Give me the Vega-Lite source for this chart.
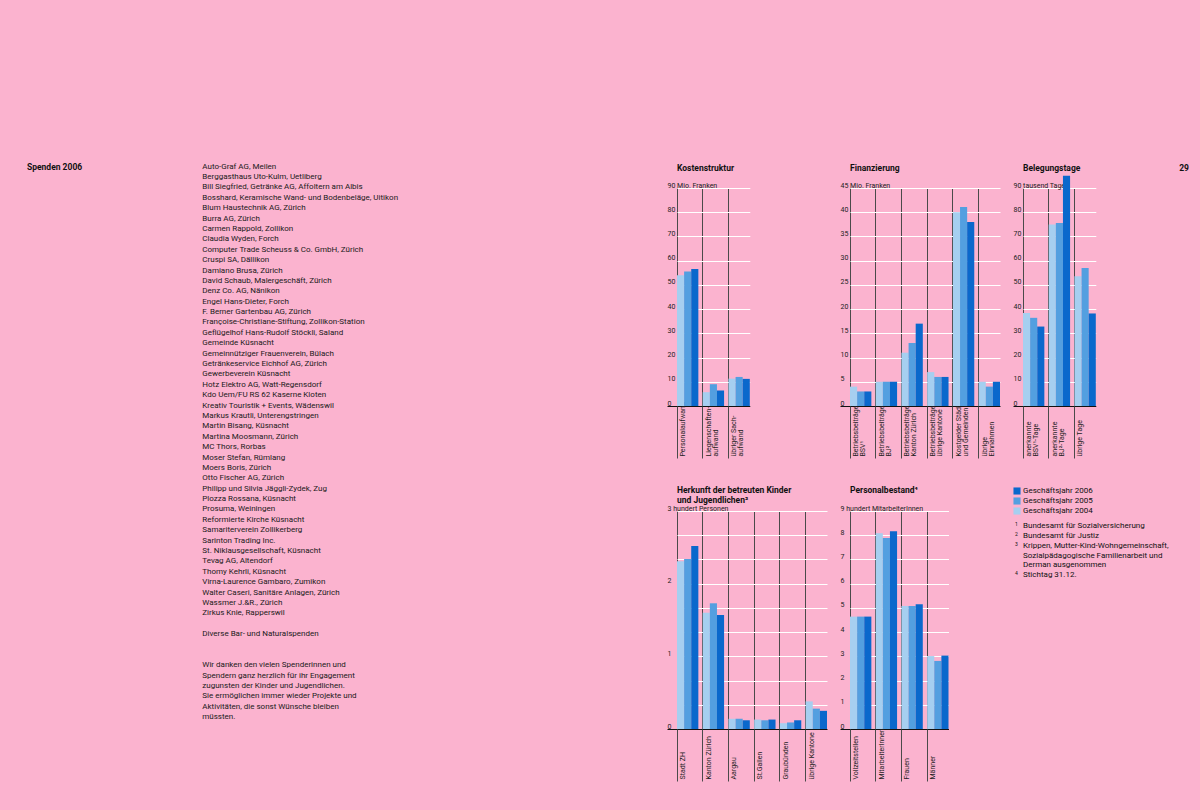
{
  "$schema": "https://vega.github.io/schema/vega-lite/v6.json",
  "background": "#fbb3cf",
  "padding": {"left": 27, "top": 162, "right": 11, "bottom": 29},
  "title": {"text": "29", "anchor": "end", "frame": "bounds", "dx": 16, "dy": 10, "offset": 0, "fontSize": 8.5, "fontWeight": "bold", "font": "Roboto", "color": "#111111", "baseline": "top"},
  "config": {
    "view": {"stroke": null},
    "font": "Roboto",
    "title": {"anchor": "start", "frame": "group", "font": "Roboto", "fontSize": 8.5, "fontWeight": "bold", "color": "#111111", "baseline": "bottom", "offset": 8.8, "lineHeight": 10},
    "axisX": {"bandPosition": 0, "grid": true, "gridColor": "#4a4a4a", "gridWidth": 1, "ticks": true, "tickColor": "#4a4a4a", "tickSize": 52, "tickWidth": 1, "domain": false, "labelAngle": 270, "labelAlign": "left", "labelBaseline": "top", "labelOffset": -8.7, "labelPadding": -2, "labelFont": "Roboto", "labelFontSize": 7, "labelLineHeight": 7, "labelColor": "#222222", "labelOverlap": false, "labelBound": false, "labelFlush": false, "zindex": 1},
    "axisY": {"domain": false, "ticks": true, "tickSize": 10, "tickWidth": 1, "gridWidth": 1, "labelAlign": "left", "labelBaseline": "bottom", "labelPadding": 0, "labelFont": "Roboto", "labelFontSize": 7, "labelColor": "#222222", "labelOverlap": false, "labelBound": false, "labelFlush": false}
  },
  "datasets": {
    "leftText": [
      {"sec": "head", "line": 0, "t": "Spenden 2006"},
      {"sec": "list", "line": 0, "t": "Auto-Graf AG, Meilen"},
      {"sec": "list", "line": 1, "t": "Berggasthaus Uto-Kulm, Uetliberg"},
      {"sec": "list", "line": 2, "t": "Bill Siegfried, Getränke AG, Affoltern am Albis"},
      {"sec": "list", "line": 3, "t": "Bosshard, Keramische Wand- und Bodenbeläge, Uitikon"},
      {"sec": "list", "line": 4, "t": "Blum Haustechnik AG, Zürich"},
      {"sec": "list", "line": 5, "t": "Burra AG, Zürich"},
      {"sec": "list", "line": 6, "t": "Carmen Rappold, Zollikon"},
      {"sec": "list", "line": 7, "t": "Claudia Wyden, Forch"},
      {"sec": "list", "line": 8, "t": "Computer Trade Scheuss & Co. GmbH, Zürich"},
      {"sec": "list", "line": 9, "t": "Cruspi SA, Dällikon"},
      {"sec": "list", "line": 10, "t": "Damiano Brusa, Zürich"},
      {"sec": "list", "line": 11, "t": "David Schaub, Malergeschäft, Zürich"},
      {"sec": "list", "line": 12, "t": "Denz Co. AG, Nänikon"},
      {"sec": "list", "line": 13, "t": "Engel Hans-Dieter, Forch"},
      {"sec": "list", "line": 14, "t": "F. Berner Gartenbau AG,  Zürich"},
      {"sec": "list", "line": 15, "t": "Françoise-Christiane-Stiftung, Zollikon-Station"},
      {"sec": "list", "line": 16, "t": "Geflügelhof Hans-Rudolf Stöckli, Saland"},
      {"sec": "list", "line": 17, "t": "Gemeinde Küsnacht"},
      {"sec": "list", "line": 18, "t": "Gemeinnütziger Frauenverein, Bülach"},
      {"sec": "list", "line": 19, "t": "Getränkeservice Eichhof AG, Zürich"},
      {"sec": "list", "line": 20, "t": "Gewerbeverein Küsnacht"},
      {"sec": "list", "line": 21, "t": "Hotz Elektro AG, Watt-Regensdorf"},
      {"sec": "list", "line": 22, "t": "Kdo Uem/FU RS 62 Kaserne Kloten"},
      {"sec": "list", "line": 23, "t": "Kreativ Touristik + Events, Wädenswil"},
      {"sec": "list", "line": 24, "t": "Markus Krautli, Unterengstringen"},
      {"sec": "list", "line": 25, "t": "Martin Bisang, Küsnacht"},
      {"sec": "list", "line": 26, "t": "Martina Moosmann, Zürich"},
      {"sec": "list", "line": 27, "t": "MC Thors, Rorbas"},
      {"sec": "list", "line": 28, "t": "Moser Stefan, Rümlang"},
      {"sec": "list", "line": 29, "t": "Moers Boris, Zürich"},
      {"sec": "list", "line": 30, "t": "Otto Fischer AG, Zürich"},
      {"sec": "list", "line": 31, "t": "Philipp und Silvia Jäggli-Zydek, Zug"},
      {"sec": "list", "line": 32, "t": "Plozza Rossana, Küsnacht"},
      {"sec": "list", "line": 33, "t": "Prosuma, Weiningen"},
      {"sec": "list", "line": 34, "t": "Reformierte Kirche Küsnacht"},
      {"sec": "list", "line": 35, "t": "Samariterverein Zollikerberg"},
      {"sec": "list", "line": 36, "t": "Sarinton Trading Inc."},
      {"sec": "list", "line": 37, "t": "St. Niklausgesellschaft, Küsnacht"},
      {"sec": "list", "line": 38, "t": "Tevag AG, Altendorf"},
      {"sec": "list", "line": 39, "t": "Thomy Kehrli, Küsnacht"},
      {"sec": "list", "line": 40, "t": "Virna-Laurence Gambaro, Zumikon"},
      {"sec": "list", "line": 41, "t": "Walter Caseri, Sanitäre Anlagen, Zürich"},
      {"sec": "list", "line": 42, "t": "Wassmer J.&R., Zürich"},
      {"sec": "list", "line": 43, "t": "Zirkus Knie, Rapperswil"},
      {"sec": "list", "line": 45, "t": "Diverse Bar- und Naturalspenden"},
      {"sec": "list", "line": 48, "t": "Wir danken den vielen Spenderinnen und"},
      {"sec": "list", "line": 49, "t": "Spendern ganz herzlich für ihr Engagement"},
      {"sec": "list", "line": 50, "t": "zugunsten der Kinder und Jugendlichen."},
      {"sec": "list", "line": 51, "t": "Sie ermöglichen immer wieder Projekte und"},
      {"sec": "list", "line": 52, "t": "Aktivitäten, die sonst Wünsche bleiben"},
      {"sec": "list", "line": 53, "t": "müssten."}
    ],
    "notes": [
      {"line": 0, "num": "1", "t": "Bundesamt für Sozialversicherung"},
      {"line": 1, "num": "2", "t": "Bundesamt für Justiz"},
      {"line": 2, "num": "3", "t": "Krippen, Mutter-Kind-Wohngemeinschaft,"},
      {"line": 3, "num": "", "t": "Sozialpädagogische Familienarbeit und"},
      {"line": 4, "num": "", "t": "Derman ausgenommen"},
      {"line": 5, "num": "4", "t": "Stichtag 31.12."}
    ],
    "kosten": [
      {"cat": "Personalaufwand", "year": "2004", "v": 54.0},
      {"cat": "Personalaufwand", "year": "2005", "v": 55.5},
      {"cat": "Personalaufwand", "year": "2006", "v": 56.6},
      {"cat": "Liegenschaften-|aufwand", "year": "2004", "v": 5.7},
      {"cat": "Liegenschaften-|aufwand", "year": "2005", "v": 9.0},
      {"cat": "Liegenschaften-|aufwand", "year": "2006", "v": 6.4},
      {"cat": "übriger Sach-|aufwand", "year": "2004", "v": 11.3},
      {"cat": "übriger Sach-|aufwand", "year": "2005", "v": 12.0},
      {"cat": "übriger Sach-|aufwand", "year": "2006", "v": 11.2}
    ],
    "finanz": [
      {"cat": "Betriebsbeiträge|BSV¹", "year": "2004", "v": 4.0},
      {"cat": "Betriebsbeiträge|BSV¹", "year": "2005", "v": 3.0},
      {"cat": "Betriebsbeiträge|BSV¹", "year": "2006", "v": 3.0},
      {"cat": "Betriebsbeiträge|BJ²", "year": "2004", "v": 5.0},
      {"cat": "Betriebsbeiträge|BJ²", "year": "2005", "v": 5.0},
      {"cat": "Betriebsbeiträge|BJ²", "year": "2006", "v": 5.0},
      {"cat": "Betriebsbeiträge|Kanton Zürich", "year": "2004", "v": 11.0},
      {"cat": "Betriebsbeiträge|Kanton Zürich", "year": "2005", "v": 13.0},
      {"cat": "Betriebsbeiträge|Kanton Zürich", "year": "2006", "v": 17.0},
      {"cat": "Betriebsbeiträge|übrige Kantone", "year": "2004", "v": 7.0},
      {"cat": "Betriebsbeiträge|übrige Kantone", "year": "2005", "v": 6.0},
      {"cat": "Betriebsbeiträge|übrige Kantone", "year": "2006", "v": 6.0},
      {"cat": "Kostgelder Städte|und Gemeinden", "year": "2004", "v": 40.0},
      {"cat": "Kostgelder Städte|und Gemeinden", "year": "2005", "v": 41.1},
      {"cat": "Kostgelder Städte|und Gemeinden", "year": "2006", "v": 38.0},
      {"cat": "übrige|Einnahmen", "year": "2004", "v": 5.0},
      {"cat": "übrige|Einnahmen", "year": "2005", "v": 4.0},
      {"cat": "übrige|Einnahmen", "year": "2006", "v": 5.0}
    ],
    "beleg": [
      {"cat": "anerkannte|BSV¹-Tage", "year": "2004", "v": 38.4},
      {"cat": "anerkannte|BSV¹-Tage", "year": "2005", "v": 36.4},
      {"cat": "anerkannte|BSV¹-Tage", "year": "2006", "v": 32.8},
      {"cat": "anerkannte|BJ²-Tage", "year": "2004", "v": 74.9},
      {"cat": "anerkannte|BJ²-Tage", "year": "2005", "v": 75.6},
      {"cat": "anerkannte|BJ²-Tage", "year": "2006", "v": 95.1},
      {"cat": "übrige Tage", "year": "2004", "v": 53.6},
      {"cat": "übrige Tage", "year": "2005", "v": 57.0},
      {"cat": "übrige Tage", "year": "2006", "v": 38.2}
    ],
    "herkunft": [
      {"cat": "Stadt ZH", "year": "2004", "v": 2.31},
      {"cat": "Stadt ZH", "year": "2005", "v": 2.34},
      {"cat": "Stadt ZH", "year": "2006", "v": 2.52},
      {"cat": "Kanton Zürich", "year": "2004", "v": 1.60},
      {"cat": "Kanton Zürich", "year": "2005", "v": 1.73},
      {"cat": "Kanton Zürich", "year": "2006", "v": 1.57},
      {"cat": "Aargau", "year": "2004", "v": 0.14},
      {"cat": "Aargau", "year": "2005", "v": 0.14},
      {"cat": "Aargau", "year": "2006", "v": 0.12},
      {"cat": "St.Gallen", "year": "2004", "v": 0.13},
      {"cat": "St.Gallen", "year": "2005", "v": 0.12},
      {"cat": "St.Gallen", "year": "2006", "v": 0.13},
      {"cat": "Graubünden", "year": "2004", "v": 0.08},
      {"cat": "Graubünden", "year": "2005", "v": 0.09},
      {"cat": "Graubünden", "year": "2006", "v": 0.12},
      {"cat": "übrige Kantone", "year": "2004", "v": 0.38},
      {"cat": "übrige Kantone", "year": "2005", "v": 0.28},
      {"cat": "übrige Kantone", "year": "2006", "v": 0.25}
    ],
    "personal": [
      {"cat": "Vollzeitstellen", "year": "2004", "v": 4.64},
      {"cat": "Vollzeitstellen", "year": "2005", "v": 4.64},
      {"cat": "Vollzeitstellen", "year": "2006", "v": 4.64},
      {"cat": "MitarbeiterInnen", "year": "2004", "v": 8.08},
      {"cat": "MitarbeiterInnen", "year": "2005", "v": 7.89},
      {"cat": "MitarbeiterInnen", "year": "2006", "v": 8.16},
      {"cat": "Frauen", "year": "2004", "v": 5.08},
      {"cat": "Frauen", "year": "2005", "v": 5.08},
      {"cat": "Frauen", "year": "2006", "v": 5.15},
      {"cat": "Männer", "year": "2004", "v": 3.01},
      {"cat": "Männer", "year": "2005", "v": 2.81},
      {"cat": "Männer", "year": "2006", "v": 3.03}
    ]
  },
  "bounds": "flush",
  "columns": 4,
  "spacing": {"row": 105, "column": 23},
  "concat": [
    {
      "width": 627,
      "height": 218,
      "data": {"name": "leftText"},
      "layer": [
        {
          "transform": [{"filter": "datum.sec === 'head'"}],
          "mark": {"type": "text", "align": "left", "baseline": "middle", "fontSize": 8.5, "fontWeight": "bold", "color": "#111111"},
          "encoding": {
            "x": {"field": "sec", "type": "nominal", "scale": {"type": "point", "domain": ["head", "list"], "range": [0, 175.3], "padding": 0}, "axis": null},
            "y": {"field": "line", "type": "quantitative", "scale": {"domain": [2.05, 23.04], "reverse": true, "nice": false, "zero": false}, "axis": null},
            "text": {"field": "t"}
          }
        },
        {
          "transform": [{"filter": "datum.sec === 'list'"}],
          "mark": {"type": "text", "align": "left", "baseline": "middle", "fontSize": 8, "color": "#1a1a1a"},
          "encoding": {
            "x": {"field": "sec", "type": "nominal", "scale": {"type": "point", "domain": ["head", "list"], "range": [0, 175.3], "padding": 0}, "axis": null},
            "y": {"field": "line", "type": "quantitative", "scale": {"domain": [2.05, 23.04], "reverse": true, "nice": false, "zero": false}, "axis": null},
            "text": {"field": "t"}
          }
        }
      ]
    },
    {
      "title": {"text": "Kostenstruktur", "offset": 8.8},
      "width": 150,
      "height": 218,
      "data": {"name": "kosten"},
      "mark": {"type": "bar"},
      "encoding": {
        "x": {"field": "cat", "type": "nominal", "title": null, "scale": {"domain": ["Personalaufwand", "Liegenschaften-|aufwand", "übriger Sach-|aufwand"], "range": [0, 72.8], "paddingInner": 0.17, "paddingOuter": 0}, "axis": {"labelExpr": "split(datum.label, '|')"}},
        "xOffset": {"field": "year", "type": "nominal", "scale": {"paddingInner": 0, "paddingOuter": 0}},
        "y": {"field": "v", "type": "quantitative", "title": null, "scale": {"domain": [0, 90], "nice": false}, "axis": {"values": [0, 10, 20, 30, 40, 50, 60, 70, 80, 90], "labelExpr": "datum.value === 90 ? '90 Mio. Franken' : datum.label", "tickColor": {"condition": {"test": "datum.value === 0", "value": "#111111"}, "value": "rgba(0,0,0,0)"}, "gridColor": {"condition": {"test": "datum.value === 0", "value": "#111111"}, "value": "#ffffff"}}},
        "color": {"field": "year", "type": "nominal", "scale": {"domain": ["2004", "2005", "2006"], "range": ["#a6cff0", "#539fe0", "#0a68cc"]}, "legend": {"orient": "none", "legendX": 986, "legendY": 299, "direction": "vertical", "values": ["2006", "2005", "2004"], "labelExpr": "'Geschäftsjahr ' + datum.label", "title": null, "symbolType": "square", "symbolSize": 50, "symbolStrokeWidth": 0, "labelFont": "Roboto", "labelFontSize": 8, "labelColor": "#111111", "rowPadding": 2, "labelOffset": 2, "padding": 0}}
      }
    },
    {
      "title": {"text": "Finanzierung", "offset": 8.8},
      "width": 150,
      "height": 218,
      "data": {"name": "finanz"},
      "mark": {"type": "bar"},
      "encoding": {
        "x": {"field": "cat", "type": "nominal", "title": null, "scale": {"domain": ["Betriebsbeiträge|BSV¹", "Betriebsbeiträge|BJ²", "Betriebsbeiträge|Kanton Zürich", "Betriebsbeiträge|übrige Kantone", "Kostgelder Städte|und Gemeinden", "übrige|Einnahmen"], "range": [0, 150], "paddingInner": 0.17, "paddingOuter": 0}, "axis": {"labelExpr": "split(datum.label, '|')"}},
        "xOffset": {"field": "year", "type": "nominal", "scale": {"paddingInner": 0, "paddingOuter": 0}},
        "y": {"field": "v", "type": "quantitative", "title": null, "scale": {"domain": [0, 45], "nice": false}, "axis": {"values": [0, 5, 10, 15, 20, 25, 30, 35, 40, 45], "labelExpr": "datum.value === 45 ? '45 Mio. Franken' : datum.label", "tickColor": {"condition": {"test": "datum.value === 0", "value": "#111111"}, "value": "rgba(0,0,0,0)"}, "gridColor": {"condition": {"test": "datum.value === 0", "value": "#111111"}, "value": "#ffffff"}}},
        "color": {"field": "year", "type": "nominal", "scale": {"domain": ["2004", "2005", "2006"], "range": ["#a6cff0", "#539fe0", "#0a68cc"]}}
      }
    },
    {
      "title": {"text": "Belegungstage", "offset": 3.5},
      "width": 150,
      "height": 218,
      "data": {"name": "beleg"},
      "mark": {"type": "bar"},
      "encoding": {
        "x": {"field": "cat", "type": "nominal", "title": null, "scale": {"domain": ["anerkannte|BSV¹-Tage", "anerkannte|BJ²-Tage", "übrige Tage"], "range": [0, 72.8], "paddingInner": 0.17, "paddingOuter": 0}, "axis": {"labelExpr": "split(datum.label, '|')"}},
        "xOffset": {"field": "year", "type": "nominal", "scale": {"paddingInner": 0, "paddingOuter": 0}},
        "y": {"field": "v", "type": "quantitative", "title": null, "scale": {"domain": [0, 90], "nice": false}, "axis": {"values": [0, 10, 20, 30, 40, 50, 60, 70, 80, 90], "labelExpr": "datum.value === 90 ? '90 tausend Tage' : datum.label", "tickColor": {"condition": {"test": "datum.value === 0", "value": "#111111"}, "value": "rgba(0,0,0,0)"}, "gridColor": {"condition": {"test": "datum.value === 0", "value": "#111111"}, "value": "#ffffff"}}},
        "color": {"field": "year", "type": "nominal", "scale": {"domain": ["2004", "2005", "2006"], "range": ["#a6cff0", "#539fe0", "#0a68cc"]}}
      }
    },
    {
      "width": 627,
      "height": 218,
      "data": {"values": [{"p": ""}]},
      "mark": {"type": "text"},
      "encoding": {"text": {"field": "p"}}
    },
    {
      "title": {"text": ["Herkunft der betreuten Kinder", "und Jugendlichen³"], "offset": 0},
      "width": 150,
      "height": 218,
      "data": {"name": "herkunft"},
      "mark": {"type": "bar"},
      "encoding": {
        "x": {"field": "cat", "type": "nominal", "title": null, "scale": {"domain": ["Stadt ZH", "Kanton Zürich", "Aargau", "St.Gallen", "Graubünden", "übrige Kantone"], "range": [0, 150], "paddingInner": 0.17, "paddingOuter": 0}, "axis": {"labelExpr": "split(datum.label, '|')"}},
        "xOffset": {"field": "year", "type": "nominal", "scale": {"paddingInner": 0, "paddingOuter": 0}},
        "y": {"field": "v", "type": "quantitative", "title": null, "scale": {"domain": [0, 3], "nice": false}, "axis": {"values": [0, 0.3333333, 0.6666667, 1, 1.3333333, 1.6666667, 2, 2.3333333, 2.6666667, 3], "labelExpr": "datum.value === 3 ? '3 hundert Personen' : (datum.value % 1 === 0 ? format(datum.value, 'd') : '')", "tickColor": {"condition": {"test": "datum.value === 0", "value": "#111111"}, "value": "rgba(0,0,0,0)"}, "gridColor": {"condition": {"test": "datum.value === 0", "value": "#111111"}, "value": "#ffffff"}}},
        "color": {"field": "year", "type": "nominal", "scale": {"domain": ["2004", "2005", "2006"], "range": ["#a6cff0", "#539fe0", "#0a68cc"]}}
      }
    },
    {
      "title": {"text": "Personalbestand⁴", "offset": 9.2},
      "width": 150,
      "height": 218,
      "data": {"name": "personal"},
      "mark": {"type": "bar"},
      "encoding": {
        "x": {"field": "cat", "type": "nominal", "title": null, "scale": {"domain": ["Vollzeitstellen", "MitarbeiterInnen", "Frauen", "Männer"], "range": [0, 98.5], "paddingInner": 0.17, "paddingOuter": 0}, "axis": {"labelExpr": "split(datum.label, '|')"}},
        "xOffset": {"field": "year", "type": "nominal", "scale": {"paddingInner": 0, "paddingOuter": 0}},
        "y": {"field": "v", "type": "quantitative", "title": null, "scale": {"domain": [0, 9], "nice": false}, "axis": {"values": [0, 1, 2, 3, 4, 5, 6, 7, 8, 9], "labelExpr": "datum.value === 9 ? '9 hundert MitarbeiterInnen' : datum.label", "tickColor": {"condition": {"test": "datum.value === 0", "value": "#111111"}, "value": "rgba(0,0,0,0)"}, "gridColor": {"condition": {"test": "datum.value === 0", "value": "#111111"}, "value": "#ffffff"}}},
        "color": {"field": "year", "type": "nominal", "scale": {"domain": ["2004", "2005", "2006"], "range": ["#a6cff0", "#539fe0", "#0a68cc"]}}
      }
    },
    {
      "width": 150,
      "height": 218,
      "data": {"name": "notes"},
      "transform": [{"fold": ["num", "t"], "as": ["part", "str"]}],
      "layer": [
        {
          "transform": [{"filter": "datum.part === 't'"}],
          "mark": {"type": "text", "align": "left", "baseline": "middle", "fontSize": 8, "color": "#111111"},
          "encoding": {
            "x": {"field": "part", "type": "nominal", "scale": {"type": "point", "domain": ["num", "t"], "range": [-8, 0], "padding": 0}, "axis": null},
            "y": {"field": "line", "type": "quantitative", "scale": {"domain": [-1.521, 20.587], "reverse": true, "nice": false, "zero": false}, "axis": null},
            "text": {"field": "str"}
          }
        },
        {
          "transform": [{"filter": "datum.part === 'num'"}],
          "mark": {"type": "text", "align": "left", "baseline": "middle", "fontSize": 5, "dy": -2, "color": "#111111"},
          "encoding": {
            "x": {"field": "part", "type": "nominal", "scale": {"type": "point", "domain": ["num", "t"], "range": [-8, 0], "padding": 0}, "axis": null},
            "y": {"field": "line", "type": "quantitative", "scale": {"domain": [-1.521, 20.587], "reverse": true, "nice": false, "zero": false}, "axis": null},
            "text": {"field": "str"}
          }
        }
      ]
    }
  ]
}
